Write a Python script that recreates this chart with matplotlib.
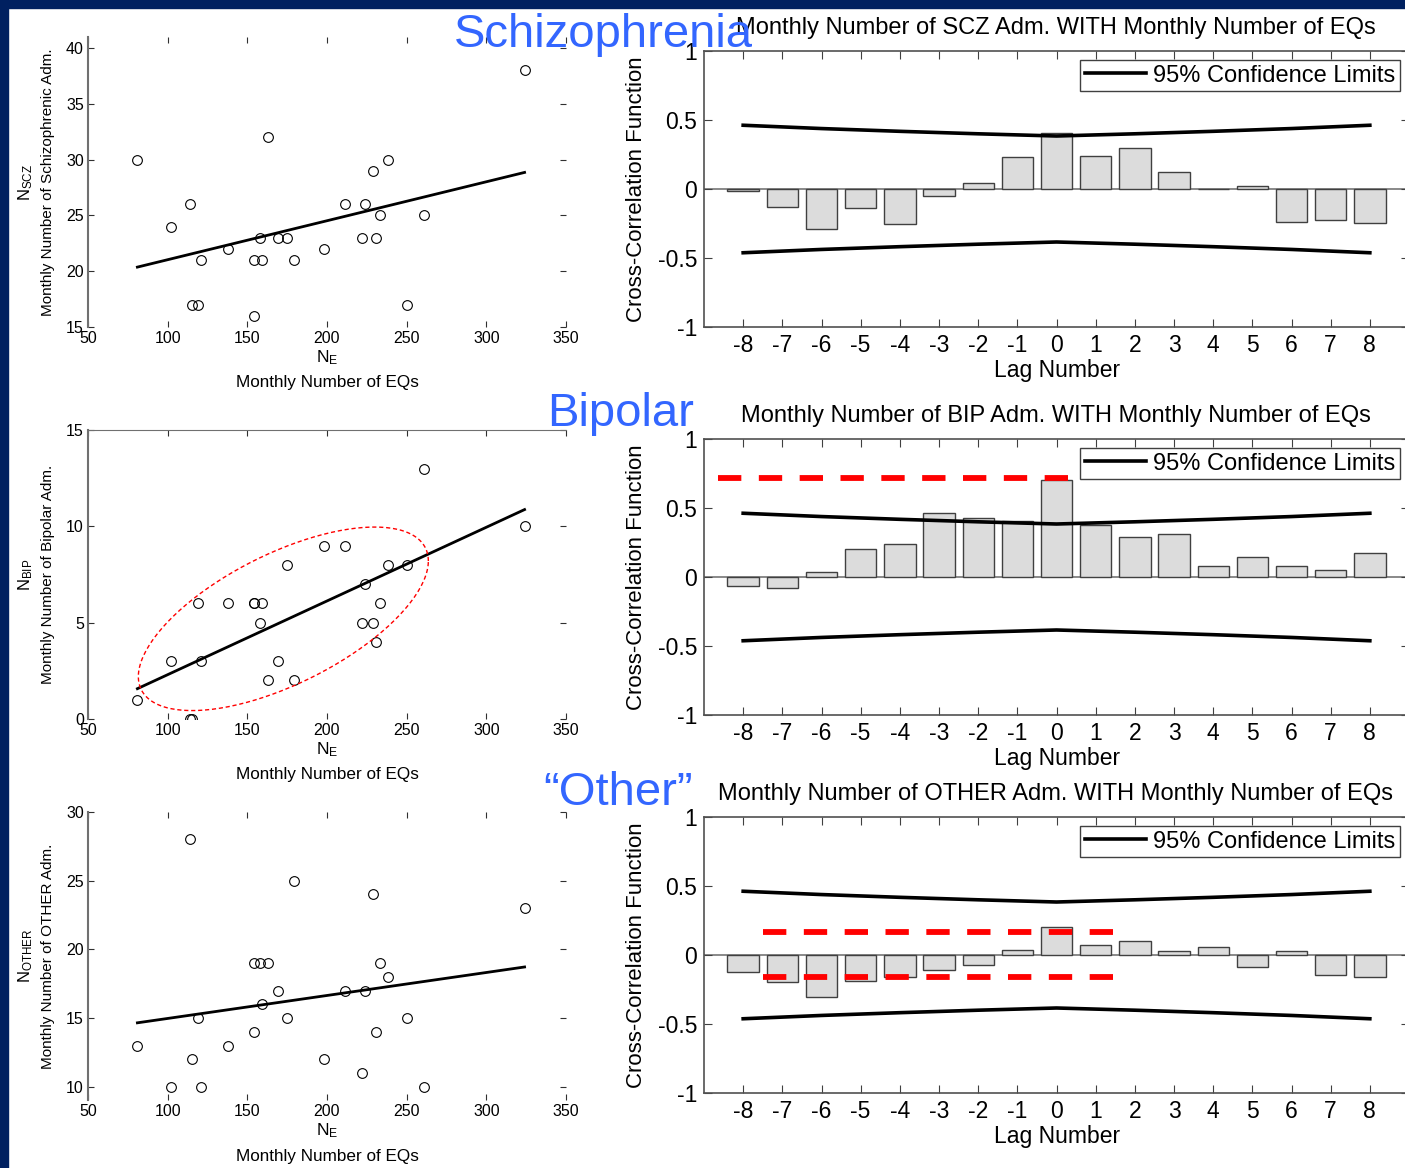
import numpy as np
import matplotlib.pyplot as plt
from matplotlib.patches import Rectangle

plt.rcParams['font.family'] = 'Liberation Sans'
plt.rcParams['mathtext.fontset'] = 'custom'
plt.rcParams['mathtext.rm'] = 'Liberation Sans'
plt.rcParams['mathtext.it'] = 'Liberation Sans'
plt.rcParams['axes.unicode_minus'] = False

# monthly number of earthquakes (shared x of the scatter plots)
eq = [81, 102, 114, 115, 119, 121, 138, 154, 154, 158, 159, 163, 169,
      175, 179, 198, 211, 222, 224, 229, 231, 233, 238, 250, 261, 324]
scz = [30, 24, 26, 17, 17, 21, 22, 16, 21, 23, 21, 32, 23,
       23, 21, 22, 26, 23, 26, 29, 23, 25, 30, 17, 25, 38]
bip = [1, 3, 0, 0, 6, 3, 6, 6, 6, 5, 6, 2, 3,
       8, 2, 9, 9, 5, 7, 5, 4, 6, 8, 8, 13, 10]
oth = [13, 10, 28, 12, 15, 10, 13, 19, 14, 19, 16, 19, 17,
       15, 25, 12, 17, 11, 17, 24, 14, 19, 18, 15, 10, 23]

# cross-correlation per lag
lags = list(range(-8, 9))
ccf_scz = [-0.015, -0.133, -0.287, -0.140, -0.256, -0.053, 0.041, 0.229, 0.403,
           0.237, 0.295, 0.126, 0.002, 0.024, -0.237, -0.227, -0.246]
ccf_bip = [-0.063, -0.077, 0.036, 0.203, 0.239, 0.464, 0.428, 0.406, 0.703,
           0.378, 0.292, 0.312, 0.082, 0.147, 0.080, 0.048, 0.174]
ccf_oth = [-0.124, -0.197, -0.301, -0.192, -0.160, -0.107, -0.070, 0.039, 0.204,
           0.075, 0.100, 0.027, 0.061, -0.085, 0.027, -0.148, -0.160]
conf = [0.462, 0.450, 0.438, 0.428, 0.418, 0.409, 0.400, 0.392, 0.384,
        0.392, 0.400, 0.409, 0.418, 0.428, 0.438, 0.450, 0.462]

W, H = 1405, 1168
fig = plt.figure(figsize=(W/100, H/100), dpi=100)
fig.patch.set_facecolor('white')

# navy frame (top and left)
navy = '#002060'
fig.patches.append(Rectangle((0, 1-8/H), 1, 8/H, transform=fig.transFigure, color=navy, zorder=0))
fig.patches.append(Rectangle((0, 0), 8/W, 1, transform=fig.transFigure, color=navy, zorder=0))


def px_axes(l, t, r, b):
    return fig.add_axes([l/W, 1-b/H, (r-l)/W, (b-t)/H])


def ftext(x, y, s, **kw):
    fig.text(x/W, 1-y/H, s, **kw)


blue = '#3366FF'

# ---------------- scatter panels
scat = [
    (scz, (37, 327), (15, 41), [15, 20, 25, 30, 35, 40], 'SCZ', 'Schizophrenic', False),
    (bip, (430, 719), (0, 15), [0, 5, 10, 15], 'BIP', 'Bipolar', True),
    (oth, (812, 1100), (9.05, 30), [10, 15, 20, 25, 30], 'OTHER', 'OTHER', False),
]
for yy, (t, b), ylim, yt, sub, name, topline in scat:
    ax = px_axes(88, t, 566, b)
    ax.plot(eq, yy, 'o', mfc='none', mec='k', ms=7, mew=0.8)
    p = np.polyfit(eq, yy, 1)
    xs = np.array([min(eq), max(eq)])
    ax.plot(xs, np.polyval(p, xs), 'k-', lw=2)
    ax.set_xlim(50, 350)
    ax.set_ylim(*ylim)
    ax.set_xticks([50, 100, 150, 200, 250, 300, 350])
    ax.set_yticks(yt)
    for s in ['bottom', 'right']:
        ax.spines[s].set_visible(False)
    ax.spines['top'].set_visible(topline)
    ax.spines['top'].set_color('#707070')
    ax.spines['left'].set_color('#707070')
    ax.spines['left'].set_linewidth(1.5)
    ax.tick_params(direction='in', length=4, top=True, right=True, labelsize=11.5,
                   color='#303030', pad=3)
    ax.patch.set_alpha(0)
    ym = (t + b) / 2
    ftext(26, ym, r'N$_{\mathrm{%s}}$' % sub, rotation=90, ha='center', va='center', fontsize=12)
    ftext(48, ym, 'Monthly Number of %s Adm.' % name, rotation=90, ha='center', va='center',
          fontsize=11)
    ftext(327, b + 31, r'N$_{\mathrm{E}}$', ha='center', va='center', fontsize=12.5)
    ftext(327, b + 56, 'Monthly Number of EQs', ha='center', va='center', fontsize=12.3)

# red ellipse round the bipolar cloud
ax_b = fig.axes[1]
tt = np.linspace(0, 2*np.pi, 200)
ell_c = (172.6, 5.2)
ell_u = (91.0, 3.0)
ell_v = (0.0, 3.7)
ax_b.plot(ell_c[0] + ell_u[0]*np.cos(tt) + ell_v[0]*np.sin(tt),
          ell_c[1] + ell_u[1]*np.cos(tt) + ell_v[1]*np.sin(tt),
          color='red', ls=(0, (3, 2)), lw=1)

# ---------------- cross-correlation panels
ccfs = [
    (ccf_scz, 51, 'SCZ', []),
    (ccf_bip, 439, 'BIP', [(0.72, -8.64, 0.52)]),
    (ccf_oth, 817, 'OTHER', [(0.167, -7.49, 1.72), (-0.163, -7.49, 1.72)]),
]
for vals, t, name, hl in ccfs:
    b = t + 276
    ax = px_axes(704, t, 1409, b)
    ax.axhline(0, color='#808080', lw=1.3, zorder=1)
    ax.bar(lags, vals, width=0.8, color='#dcdcdc', edgecolor='#404040', lw=1, zorder=2)
    ax.plot(lags, conf, 'k-', lw=2.6, zorder=3, label='95% Confidence Limits')
    ax.plot(lags, [-c for c in conf], 'k-', lw=2.6, zorder=3)
    for yv, x0, x1 in hl:
        ax.plot([x0, x1], [yv, yv], color='red', lw=4.2, ls=(0, (4.0, 3.0)), zorder=4)
    ax.set_xlim(-9, 9)
    ax.set_ylim(-1, 1)
    ax.set_xticks(lags)
    ax.set_yticks([-1, -0.5, 0, 0.5, 1])
    ax.set_yticklabels(['-1', '-0.5', '0', '0.5', '1'])
    for s in ax.spines.values():
        s.set_color('#505050')
        s.set_linewidth(1.2)
    ax.tick_params(direction='in', length=6, top=True, right=True, labelsize=16.5,
                   color='#404040', pad=5)
    leg = ax.legend(loc='upper right', bbox_to_anchor=((1400-704)/705, 1-9/276),
                    borderaxespad=0, fontsize=17, fancybox=False, framealpha=1,
                    edgecolor='#404040', handlelength=2.6, borderpad=0.2,
                    handletextpad=0.3)
    leg.get_frame().set_linewidth(1)
    leg.set_zorder(5)
    ftext(1056, t - 23, 'Monthly Number of %s Adm. WITH Monthly Number of EQs' % name,
          ha='center', va='center', fontsize=17)
    ftext(636, t + 138, 'Cross-Correlation Function', rotation=90, ha='center', va='center',
          fontsize=16)
    ftext(1057, b + 43, 'Lag Number', ha='center', va='center', fontsize=16.5)

# big coloured group labels
ftext(454, 47, 'Schizophrenia', color=blue, fontsize=34, ha='left', va='baseline')
ftext(547, 426, 'Bipolar', color=blue, fontsize=34, ha='left', va='baseline')
ftext(543, 805, '\u201cOther\u201d', color=blue, fontsize=34, ha='left', va='baseline')

fig.savefig('out.png', dpi=100)
